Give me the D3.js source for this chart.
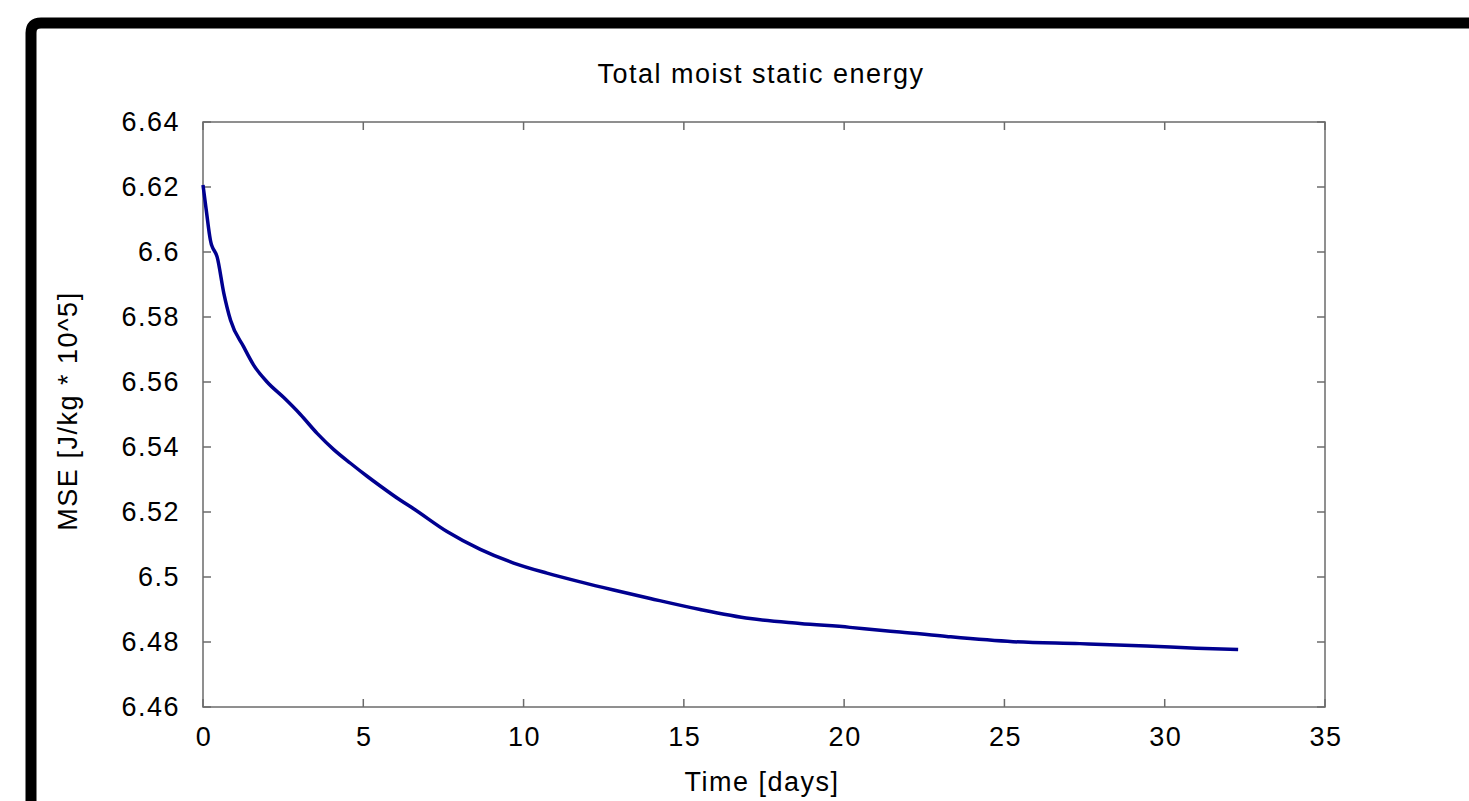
<!DOCTYPE html>
<html>
<head>
<meta charset="utf-8">
<script src="https://cdn.jsdelivr.net/npm/d3@7"></script>
<style>
  html, body { margin: 0; padding: 0; background: #fff; }
  svg { display: block; font-family: "Liberation Sans", Arial, sans-serif; }
</style>
</head>
<body>
<svg id="chart" width="1469" height="801"></svg>
<script>
// time in days
const timeDays = [0, 0.1, 0.23, 0.26, 0.29, 0.44, 0.65, 0.86, 1.27, 1.58, 2.0, 2.52, 3.04, 3.56, 4.08, 4.6, 5.12, 5.53, 6.16, 6.57, 7.61, 8.65, 9.69, 10.73, 11.77, 12.81, 13.95, 15.51, 17.07, 18.62, 20.18, 21.12, 21.74, 23.2, 25.27, 27.35, 29.43, 30.99, 32.29];
// MSE [J/kg * 10^5]
const mseValues = [6.6206, 6.613, 6.6037, 6.6024, 6.6016, 6.5985, 6.5873, 6.579, 6.5708, 6.5652, 6.5600, 6.5552, 6.5500, 6.5442, 6.5392, 6.5350, 6.5310, 6.5280, 6.5236, 6.5210, 6.5140, 6.5085, 6.5043, 6.5012, 6.4985, 6.4960, 6.4934, 6.4900, 6.4872, 6.4857, 6.4845, 6.4836, 6.4831, 6.4817, 6.4801, 6.4795, 6.4788, 6.4781, 6.4777];
const xTicks = [0, 5, 10, 15, 20, 25, 30, 35];
const yTicks = [6.46, 6.48, 6.5, 6.52, 6.54, 6.56, 6.58, 6.6, 6.62, 6.64];

const svg = d3.select('#chart');

// outer frame (thick black, rounded corner top-left)
svg.append('path')
  .attr('d', 'M31,801 L31,33 Q31,23 41,23 L1469,23')
  .attr('fill', 'none')
  .attr('stroke', '#000')
  .attr('stroke-width', 11);

const plot = { left: 203, top: 122, right: 1325, bottom: 707 };

const x = d3.scaleLinear().domain([0, 35]).range([plot.left, plot.right]);
const y = d3.scaleLinear().domain([6.46, 6.64]).range([plot.bottom, plot.top]);

const axisColor = '#6b6b6b';
const tickLen = 8;
const labelSize = 27;
const spacing = 1.5;

// plot box
svg.append('rect')
  .attr('x', plot.left).attr('y', plot.top)
  .attr('width', plot.right - plot.left).attr('height', plot.bottom - plot.top)
  .attr('fill', 'none').attr('stroke', axisColor).attr('stroke-width', 1.5);

// ticks (inward, mirrored)
const g = svg.append('g');
xTicks.forEach(t => {
  g.append('line').attr('x1', x(t)).attr('x2', x(t)).attr('y1', plot.bottom).attr('y2', plot.bottom - tickLen)
    .attr('stroke', axisColor).attr('stroke-width', 1.5);
  g.append('line').attr('x1', x(t)).attr('x2', x(t)).attr('y1', plot.top).attr('y2', plot.top + tickLen)
    .attr('stroke', axisColor).attr('stroke-width', 1.5);
  g.append('text').attr('x', x(t) + 1).attr('y', plot.bottom + 39)
    .attr('text-anchor', 'middle').attr('font-size', labelSize).attr('letter-spacing', spacing)
    .attr('fill', '#000').text(d3.format('d')(t));
});
yTicks.forEach(v => {
  g.append('line').attr('x1', plot.left).attr('x2', plot.left + tickLen).attr('y1', y(v)).attr('y2', y(v))
    .attr('stroke', axisColor).attr('stroke-width', 1.5);
  g.append('line').attr('x1', plot.right).attr('x2', plot.right - tickLen).attr('y1', y(v)).attr('y2', y(v))
    .attr('stroke', axisColor).attr('stroke-width', 1.5);
  g.append('text').attr('x', 180).attr('y', y(v)).attr('dy', '0.33em')
    .attr('text-anchor', 'end').attr('font-size', labelSize).attr('letter-spacing', spacing)
    .attr('fill', '#000').text(String(+v.toFixed(2)));
});

// data line
const pts = timeDays.map((t, i) => [t, mseValues[i]]);
svg.append('path')
  .datum(pts)
  .attr('d', d3.line().curve(d3.curveMonotoneX).x(d => x(d[0])).y(d => y(d[1])))
  .attr('fill', 'none')
  .attr('stroke', '#000090')
  .attr('stroke-width', 3.5)
  .attr('stroke-linejoin', 'round');

// title and labels
svg.append('text').attr('x', 761).attr('y', 83).attr('text-anchor', 'middle')
  .attr('font-size', 27).attr('letter-spacing', spacing).attr('fill', '#000').text('Total moist static energy');
svg.append('text').attr('x', 762).attr('y', 791).attr('text-anchor', 'middle')
  .attr('font-size', labelSize).attr('letter-spacing', spacing).attr('fill', '#000').text('Time [days]');
svg.append('text').attr('transform', 'translate(77,411) rotate(-90)').attr('text-anchor', 'middle')
  .attr('font-size', labelSize).attr('letter-spacing', spacing).attr('fill', '#000').text('MSE [J/kg * 10^5]');
</script>
</body>
</html>
